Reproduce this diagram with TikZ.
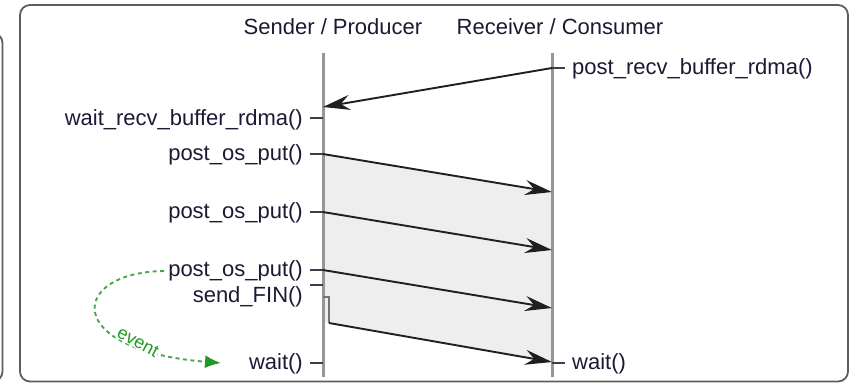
\documentclass[tikz,border=0pt]{standalone}
\usepackage{fontspec}
\setmainfont{Liberation Sans}
\usetikzlibrary{arrows.meta}
\definecolor{inkc}{HTML}{1A1A34}
\definecolor{framec}{HTML}{5E5E5E}
\definecolor{lifec}{HTML}{969696}
\definecolor{shadec}{HTML}{EEEEEE}
\definecolor{evgreen}{HTML}{4AA84A}
\definecolor{evdark}{HTML}{229922}
\tikzset{
  lbl/.style={font=\fontsize{22}{26}\selectfont, text=inkc, inner sep=0pt},
  frame/.style={draw=framec, line width=1.8pt, rounded corners=10pt},
  lifeline/.style={draw=lifec, line width=3pt},
  tick/.style={draw=inkc!85, line width=1.4pt},
  msg/.style={draw=black!88, line width=1.9pt, -{Stealth[length=27pt,width=15pt,inset=9pt]}},
  bracket/.style={draw=black!55, line width=1.7pt},
  evarrow/.style={draw=evgreen, line width=1.9pt, dash pattern=on 4pt off 3.5pt,
    -{Latex[length=16pt,width=13pt,fill=evdark,color=evdark]}},
}
\begin{document}
\begin{tikzpicture}[x=1pt,y=-1pt]
\useasboundingbox (0,0) rectangle (853,384);
\clip (0,0) rectangle (853,384);

% neighbouring frame on the left and the main frame
\draw[frame] (-40,33) rectangle (2.5,381.5);
\draw[frame] (20,5) rectangle (848,381.5);

% lifeline end points
\coordinate (sTop) at (323,53);
\coordinate (sBot) at (323,377);
\coordinate (rTop) at (552,53);
\coordinate (rBot) at (552,377);

% shaded transfer window
\fill[shadec] (323,154) -- (552,192) -- (552,362) -- (329,323) -- (323,323) -- cycle;

% lifelines
\draw[lifeline] (sTop) -- (sBot);
\draw[lifeline] (rTop) -- (rBot);

% headers
\node[lbl] (hSend) at (333,27) {Sender / Producer};
\node[lbl] (hRecv) at (560,27) {Receiver / Consumer};

% sender-side calls
\node[lbl, anchor=east] (waitRecv) at (303,120) {wait\_recv\_buffer\_rdma()};
\node[lbl, anchor=east] (put1) at (303,155) {post\_os\_put()};
\node[lbl, anchor=east] (put2) at (303,213) {post\_os\_put()};
\node[lbl, anchor=east] (put3) at (303,271) {post\_os\_put()};
\node[lbl, anchor=east] (fin) at (303,297) {send\_FIN()};
\node[lbl, anchor=east] (waitS) at (303,364) {wait()};

% receiver-side calls
\node[lbl, anchor=west] (postRecv) at (572,69) {post\_recv\_buffer\_rdma()};
\node[lbl, anchor=west] (waitR) at (572,364) {wait()};

% points on the lifelines
\coordinate (sWaitRecv) at (323,118);
\coordinate (sPut1) at (323,154);
\coordinate (sPut2) at (323,212);
\coordinate (sPut3) at (323,270);
\coordinate (sFin) at (323,285);
\coordinate (sWait) at (323,363);
\coordinate (sRecvEnd) at (323,107);
\coordinate (finTop) at (323,297);
\coordinate (finOut) at (329,323);
\coordinate (rPost) at (552,68);
\coordinate (rPut1) at (552,192);
\coordinate (rPut2) at (552,250);
\coordinate (rPut3) at (552,308);
\coordinate (rFin) at (552,362);
\coordinate (rWait) at (552,363);

% ticks joining the labels to the lifelines
\draw[tick] ([xshift=7pt]waitRecv.east |- sWaitRecv) -- (sWaitRecv);
\draw[tick] ([xshift=7pt]put1.east |- sPut1) -- (sPut1);
\draw[tick] ([xshift=7pt]put2.east |- sPut2) -- (sPut2);
\draw[tick] ([xshift=7pt]put3.east |- sPut3) -- (sPut3);
\draw[tick] ([xshift=7pt]fin.east |- sFin) -- (sFin);
\draw[tick] ([xshift=7pt]waitS.east |- sWait) -- (sWait);
\draw[tick] (rPost) -- ([xshift=-7pt]postRecv.west |- rPost);
\draw[tick] (rWait) -- ([xshift=-7pt]waitR.west |- rWait);

% messages
\draw[msg] (rPost) -- (sRecvEnd);
\draw[msg] (sPut1) -- (rPut1);
\draw[msg] (sPut2) -- (rPut2);
\draw[msg] (sPut3) -- (rPut3);
\draw[bracket] (finTop) -- (finTop -| finOut) -- (finOut);
\draw[msg] (finOut) -- (rFin);

% completion event
\coordinate (evEnd) at (221,363);
\draw[evarrow] ([xshift=-4pt]put3.west) .. controls (70,272) and (60,350) .. (evEnd);
\node[font=\fontsize{18}{20}\selectfont, text=evdark, fill=white, inner sep=0.5pt, rotate=-28] (evLbl) at (138,342) {event};
\end{tikzpicture}
\end{document}
